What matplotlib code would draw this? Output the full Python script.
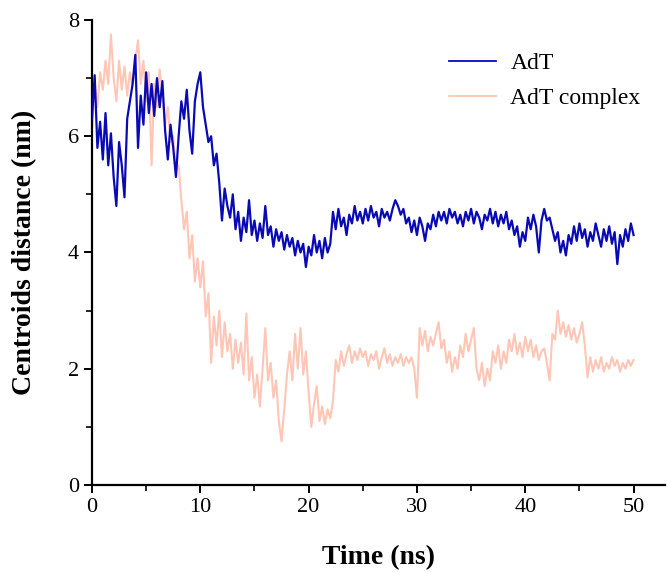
import numpy as np
import matplotlib
matplotlib.use('Agg')
import matplotlib.pyplot as plt
from matplotlib.ticker import MultipleLocator

# time axis: one value every 0.25 ns, 0 .. 50 ns
time_ns = np.arange(0, 50.01, 0.25)

# AdT centroid distance (nm)
adt = [
    6.3, 7.05, 5.8, 6.25, 5.6, 6.4, 5.5, 6.05, 5.3, 4.8,
    5.9, 5.5, 4.95, 6.3, 6.6, 6.9, 7.4, 5.8, 6.7, 6.2,
    7.1, 6.4, 6.9, 6.35, 7.0, 6.5, 6.95, 6.1, 5.6, 6.2,
    5.8, 5.3, 6.0, 6.6, 6.3, 6.8, 6.1, 5.7, 6.6, 6.9,
    7.1, 6.5, 6.2, 5.9, 6.0, 5.5, 5.7, 5.2, 4.55, 5.1,
    4.8, 4.6, 5.0, 4.4, 4.7, 4.2, 4.6, 4.35, 4.9, 4.3,
    4.55, 4.2, 4.5, 4.25, 4.8, 4.3, 4.45, 4.1, 4.4, 4.2,
    4.35, 4.05, 4.3, 4.1, 4.25, 3.95, 4.2, 4.0, 4.15, 3.75,
    4.1, 3.95, 4.3, 4.0, 4.2, 3.9, 4.25, 4.0, 4.15, 4.7,
    4.4, 4.75, 4.45, 4.6, 4.3, 4.65, 4.5, 4.8, 4.55, 4.7,
    4.5, 4.75, 4.55, 4.8, 4.6, 4.7, 4.45, 4.75, 4.6, 4.7,
    4.55, 4.75, 4.9, 4.8, 4.65, 4.75, 4.5, 4.6, 4.35, 4.55,
    4.3, 4.6, 4.45, 4.2, 4.5, 4.4, 4.65, 4.45, 4.7, 4.55,
    4.7, 4.5, 4.75, 4.6, 4.7, 4.5, 4.65, 4.45, 4.7, 4.55,
    4.75, 4.5, 4.7, 4.6, 4.4, 4.65, 4.55, 4.75, 4.5, 4.7,
    4.45, 4.65, 4.5, 4.7, 4.4, 4.55, 4.3, 4.45, 4.1, 4.35,
    4.2, 4.6, 4.4, 4.65, 4.45, 4.0, 4.55, 4.75, 4.55, 4.6,
    4.4, 4.2, 4.35, 4.0, 4.2, 3.95, 4.3, 4.15, 4.45, 4.2,
    4.5, 4.25, 4.4, 4.1, 4.35, 4.2, 4.5, 4.3, 4.1, 4.4,
    4.2, 4.45, 4.15, 4.35, 3.8, 4.3, 4.1, 4.4, 4.2, 4.5,
    4.3,
]

# AdT complex centroid distance (nm)
adt_complex = [
    6.1, 6.9, 6.5, 7.1, 6.8, 7.3, 6.9, 7.75, 7.0, 6.6,
    7.3, 6.8, 7.2, 6.7, 7.1, 6.85, 7.3, 7.65, 6.9, 7.3,
    6.6, 7.1, 5.5, 6.9, 6.5, 7.15, 6.7, 6.2, 6.5, 5.9,
    6.0, 5.4, 5.5, 4.9, 4.4, 4.7, 3.9, 4.3, 3.5, 3.9,
    3.4, 3.85, 2.9, 3.3, 2.1, 2.9, 2.4, 3.0, 2.2, 2.8,
    2.3, 2.6, 2.0, 2.5, 2.1, 2.45, 1.9, 2.95, 1.8, 2.2,
    1.5, 1.9, 1.35, 2.0, 2.7, 1.8, 2.1, 1.5, 1.8, 1.1,
    0.75, 1.3, 1.9, 2.3, 1.8, 2.6, 2.0, 2.7, 1.9, 2.3,
    1.6, 1.0, 1.4, 1.7, 1.1, 1.35, 1.05, 1.3, 1.15, 1.45,
    2.15, 1.95, 2.3, 2.05, 2.25, 2.4, 2.1, 2.3, 2.15, 2.35,
    2.2, 2.3, 2.05, 2.25, 2.15, 2.3, 2.0, 2.2, 2.35, 2.1,
    2.25, 2.05, 2.2, 2.1, 2.25, 2.05, 2.2, 2.1, 2.2, 2.0,
    1.5, 2.7, 2.4, 2.65, 2.3, 2.55, 2.4, 2.6, 2.8, 2.35,
    2.5, 2.1, 2.3, 1.95, 2.2, 2.0, 2.4, 2.2, 2.6, 2.3,
    2.5, 2.7, 2.0, 1.8, 2.1, 1.7, 2.0, 1.8, 2.3, 2.1,
    2.4, 2.0, 2.3, 2.1, 2.5, 2.3, 2.6, 2.25, 2.45, 2.2,
    2.55, 2.3, 2.5, 2.2, 2.4, 2.15, 2.3, 2.35, 2.1, 1.8,
    2.6, 2.5, 3.0, 2.6, 2.8, 2.55, 2.75, 2.5, 2.7, 2.45,
    2.6, 2.8, 2.4, 1.85, 2.2, 1.95, 2.15, 2.0, 2.2, 1.95,
    2.1, 2.0, 2.2, 2.05, 2.15, 1.95, 2.1, 2.0, 2.15, 2.05,
    2.15,
]

series_labels = ['AdT', 'AdT complex']
series_colors = ['#0a0ab4', '#ffc6b6']

plt.rcParams['font.family'] = ['Liberation Serif', 'DejaVu Serif']

fig = plt.figure(figsize=(6.68, 5.73), dpi=100)
ax = fig.add_axes([0.1377, 0.1536, 0.8578, 0.8115])

ax.plot(time_ns, adt, color=series_colors[0], lw=1.6, label=series_labels[0], zorder=3)
ax.plot(time_ns, adt_complex, color=series_colors[1], lw=1.5, label=series_labels[1], zorder=2)

ax.set_xlim(0, 52.9)
ax.set_ylim(0, 8)
ax.xaxis.set_major_locator(MultipleLocator(10))
ax.xaxis.set_minor_locator(MultipleLocator(5))
ax.yaxis.set_major_locator(MultipleLocator(2))
ax.yaxis.set_minor_locator(MultipleLocator(1))

for side in ['top', 'right']:
    ax.spines[side].set_visible(False)
for side in ['left', 'bottom']:
    ax.spines[side].set_linewidth(1.6)

ax.tick_params(which='major', direction='out', length=6, width=1.4, labelsize=16)
ax.tick_params(which='minor', direction='out', length=4, width=1.2)

ax.set_xlabel('Time (ns)', fontsize=20, fontweight='bold', labelpad=20)
ax.set_ylabel('Centroids distance (nm)', fontsize=20, fontweight='bold', labelpad=22)

leg = ax.legend(loc='upper left', bbox_to_anchor=(0.586, 0.975), frameon=False,
                fontsize=17, handlelength=2.0, handletextpad=0.6, labelspacing=0.55)
for line in leg.get_lines():
    line.set_linewidth(1.3)

fig.savefig('out.png', dpi=100)
